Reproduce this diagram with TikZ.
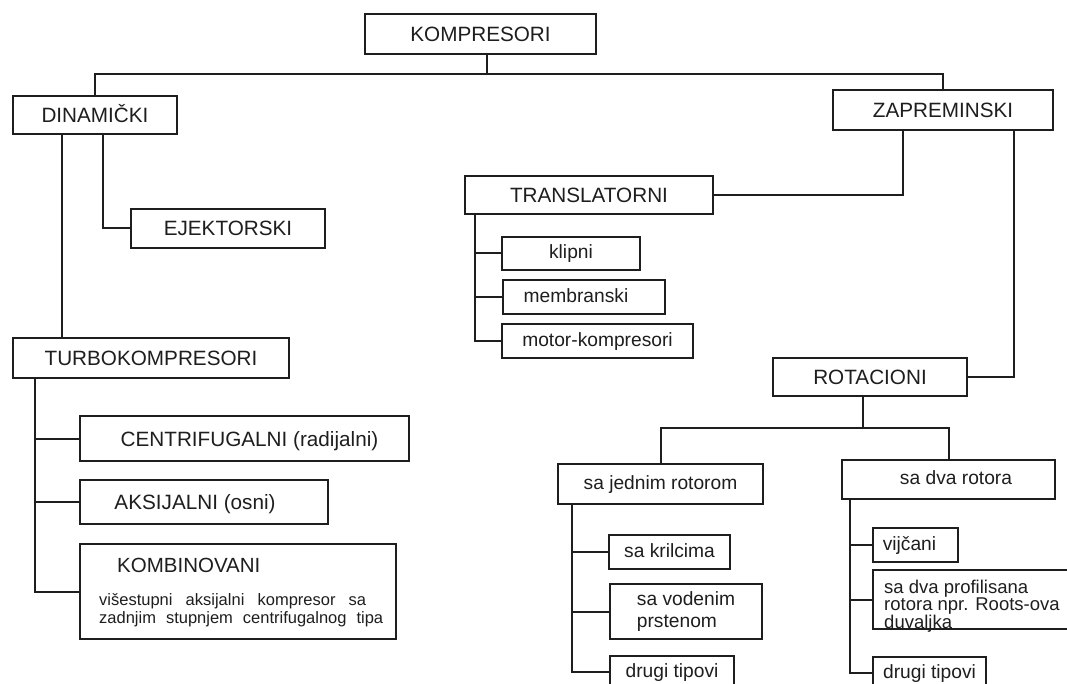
\documentclass[tikz,border=0pt]{standalone}
\usepackage{fontspec}
\setmainfont{Liberation Sans}
\usepackage{tikz}
\definecolor{ink}{RGB}{30,30,30}
\tikzset{%
  mybase/.style={draw=ink, line width=2pt, inner sep=0pt, anchor=north west, text=ink},
  mybox/.style={mybase, font=\fontsize{20.7}{23}\selectfont, text height=15pt, text depth=0pt},
  mysmall/.style={mybase, font=\fontsize{19.2}{22}\selectfont, text height=14pt, text depth=4pt},
  mytext/.style={inner sep=0pt, align=left, text=ink},
  myedge/.style={draw=ink, line width=2pt}
}

\begin{document}
\begin{tikzpicture}[x=1pt, y=-1pt]
  \useasboundingbox (0,0) rectangle (1067,684);
  \fill[white] (0,0) rectangle (1067,684);
  \clip (0,0) rectangle (1067,684);
  \node[mybox, minimum width=231, minimum height=40] (komp) at (364,13) {KOMPRESORI};
  \node[mybox, minimum width=164, minimum height=38] (din) at (12,95) {DINAMIČKI};
  \node[mybox, minimum width=220, minimum height=40] (zap) at (832,89) {ZAPREMINSKI};
  \node[mybox, minimum width=194, minimum height=39] (ejek) at (130,208) {EJEKTORSKI};
  \node[mybox, minimum width=248, minimum height=38] (trans) at (464,175) {TRANSLATORNI};
  \node[mysmall, minimum width=138, minimum height=33] (klip) at (501,236) {klipni};
  \node[mysmall, minimum width=162, minimum height=34] (memb) at (502,279) {membranski\hspace*{16pt}};
  \node[mysmall, minimum width=191, minimum height=34] (motor) at (501,323) {motor-kompresori};
  \node[mybox, minimum width=276, minimum height=40] (turbo) at (12,337) {TURBOKOMPRESORI};
  \node[mybox, minimum width=329, minimum height=45] (centr) at (79,415) {\hspace*{10pt}CENTRIFUGALNI (radijalni)};
  \node[mybox, minimum width=248, minimum height=44] (aks) at (79,479) {AKSIJALNI (osni)\hspace*{18pt}};
  \node[mybase, minimum width=316, minimum height=95] (komb) at (79,543) {};
  \node[mytext, anchor=west, font=\fontsize{20.5}{23}\selectfont] (kombt) at ([shift={(38,22)}]komb.north west) {KOMBINOVANI};
  \node[mytext, anchor=north west, font=\fontsize{16.5}{18}\selectfont] (kombd) at ([shift={(20,50)}]komb.north west)
    {\makebox[267pt][s]{višestupni aksijalni kompresor sa}\\\makebox[284pt][s]{zadnjim stupnjem centrifugalnog tipa}};
  \node[mybox, minimum width=194, minimum height=38] (rot) at (772,357) {ROTACIONI};
  \node[mysmall, minimum width=205, minimum height=40] (jed) at (557,463) {sa jednim rotorom};
  \node[mysmall, minimum width=213, minimum height=39] (dva) at (841,459) {\hspace*{15pt}sa dva rotora};
  \node[mysmall, minimum width=121, minimum height=34] (kril) at (608,534) {sa krilcima};
  \node[mybase, font=\fontsize{19.2}{22}\selectfont, align=left, minimum width=152, minimum height=55] (vod) at (609,583) {sa vodenim\\prstenom};
  \node[mysmall, minimum width=124, minimum height=32] (drug1) at (609,655) {drugi tipovi};
  \node[mysmall, minimum width=85, minimum height=34] (vij) at (872,527) {vijčani\hspace*{12pt}};
  \node[mybase, minimum width=200, minimum height=59] (prof) at (872,569) {};
  \node[mytext, anchor=north west, font=\fontsize{18.5}{17}\selectfont] (proft) at ([shift={(12,11)}]prof.north west)
    {sa dva profilisana\\rotora npr. Roots-ova\\duvaljka};
  \node[mysmall, minimum width=113, minimum height=32] (drug2) at (872,656) {drugi tipovi};
  \draw[myedge] ([xshift=6]komp.south) -- ++(0,19) -| (din.north);
  \draw[myedge] ([xshift=6]komp.south) -- ++(0,19) -| (zap.north);
  \draw[myedge] ([xshift=50]din.south west) -- ([xshift=50]turbo.north west);
  \draw[myedge] ([xshift=91]din.south west) |- (ejek.west);
  \draw[myedge] (trans.east) -| ([xshift=71]zap.south west);
  \draw[myedge] ([xshift=-40]zap.south east) |- (rot.east);
  \draw[myedge] ([xshift=11]trans.south west) |- (klip.west);
  \draw[myedge] ([xshift=11]trans.south west) |- (memb.west);
  \draw[myedge] ([xshift=11]trans.south west) |- (motor.west);
  \draw[myedge] ([xshift=23]turbo.south west) |- (centr.west);
  \draw[myedge] ([xshift=23]turbo.south west) |- (aks.west);
  \draw[myedge] ([xshift=23]turbo.south west) |- (komb.west);
  \draw[myedge] ([xshift=-7]rot.south) -- ++(0,31) -| (jed.north);
  \draw[myedge] ([xshift=-7]rot.south) -- ++(0,31) -| (dva.north);
  \draw[myedge] ([xshift=15]jed.south west) |- (kril.west);
  \draw[myedge] ([xshift=15]jed.south west) |- (vod.west);
  \draw[myedge] ([xshift=15]jed.south west) |- (drug1.west);
  \draw[myedge] ([xshift=9]dva.south west) |- (vij.west);
  \draw[myedge] ([xshift=9]dva.south west) |- (prof.west);
  \draw[myedge] ([xshift=9]dva.south west) |- (drug2.west);
\end{tikzpicture}
\end{document}
